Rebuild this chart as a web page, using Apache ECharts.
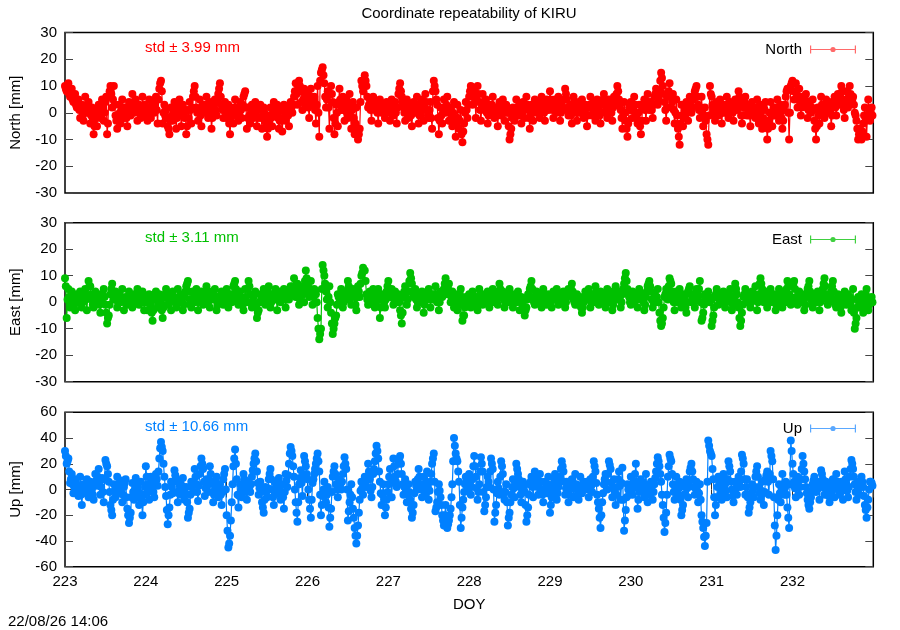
<!DOCTYPE html>
<html>
<head>
<meta charset="utf-8">
<script src="https://cdn.jsdelivr.net/npm/echarts@6/dist/echarts.min.js"></script>
<style>
  html, body { margin: 0; padding: 0; background: #fff; }
  #chart { width: 900px; height: 630px; }
</style>
</head>
<body>
<div id="chart"></div>
<script>
// epochs every 30 min from DOY 223.0 (48 per day, rows of 8 = 4 hours);
// the *Mid arrays hold the epochs 15 min after each of those
const DOY_START = 223;
const EPOCHS_PER_DAY = 48;
const DOY_TICKS = [223, 224, 225, 226, 227, 228, 229, 230, 231, 232];

const northMm = [
  // 223
  10, 8, 11, 6, 9, 4, 7, 2,   5, -2, 3, -3, 6, 0, 4, -4,   2, -8, 1, -5, 3, -2, 5, -3,
  4, -8, 6, 10, 2, 10, -1, -6,   3, -4, 5, -2, 2, -5, 4, -1,   7, 0, 5, -3, 3, -2, 6, -1,
  // 224
  2, -3, 5, -2, 4, 0, 6, -4,   9, 12, -4, 3, 1, -5, -8, 2,   -3, 4, -6, 2, 5, -5, 3, -2,
  -8, 1, 4, -4, 6, 10, 2, -3,   5, -5, 3, 0, 6, -2, 4, -6,   2, 5, -1, 7, 11, 3, -2, 4,
  // 225
  -2, 3, -8, 1, -4, 5, 0, -3,   4, -2, 6, 8, -6, 2, -4, 3,   -2, 4, -5, 1, 3, -6, 2, -3,
  -9, -4, 2, -5, 4, -1, 3, -6,   1, -7, 3, -3, 2, -5, 4, 0,   6, 11, 3, 12, 8, 1, 9, 4,
  // 226
  7, -2, 9, 3, 6, -4, 10, -9,   15, 17, 11, 2, 8, -6, 10, 4,   -8, 3, -5, 9, 1, 6, -3, 5,
  -2, 7, -6, 4, -8, 2, -10, -6,   12, 8, 14, 10, 2, 5, -3, 6,   1, 4, -4, 5, 0, 3, -2, 4,
  // 227
  3, -3, 5, -1, 4, -4, 7, 11,   6, 2, -3, 5, -2, 3, -5, 4,   0, 6, -4, 2, 5, -3, 7, 1,
  -2, 4, -6, 12, 8, 3, -8, 2,   -4, 5, 0, 6, -3, 2, -5, 4,   -9, 3, -6, 1, -11, -4, 4, -2,
  // 228
  6, 10, 3, 9, -2, 10, 4, -3,   7, 1, 5, -4, 3, 0, 6, -2,   2, -5, 4, -1, 5, -3, 3, 0,
  -10, -6, 2, -3, 5, -1, 3, -4,   4, -2, 6, 1, -6, 3, -3, 5,   0, 4, -2, 6, 2, -3, 5, 1,
  // 229
  8, 3, -2, 5, 0, 6, -3, 4,   1, 9, 5, -1, 3, -4, 6, 2,   -3, 4, 0, 5, -2, 3, -5, 2,
  6, -1, 4, -3, 5, 1, -4, 3,   7, 0, -2, 5, 2, -3, 6, 3,   10, 5, 1, -6, 4, -3, -9, 2,
  // 230
  4, -2, 6, 0, -4, 3, -8, 2,   5, -3, 7, 1, 4, -2, 6, 9,   3, 8, 15, 10, 4, -3, 6, 11,
  2, 7, -4, 5, -6, -12, 3, -5,   1, 4, -3, 6, 0, 5, 8, 10,   3, -2, 6, -5, 2, -8, -12, 10,
  // 231
  6, 1, -3, 4, -1, 5, -4, 3,   0, 6, -2, 4, 2, -3, 5, 1,   8, 3, -4, 2, 6, -1, 3, -5,
  4, 0, -2, 5, -4, 3, -6, 2,   4, -10, -3, 4, -5, 2, -1, 5,   -3, 3, -6, 1, 6, 9, -10, 10,
  // 232
  12, 5, 11, 2, 9, -1, 6, 3,   7, -2, 4, 0, 5, -3, -10, 2,   -4, 6, 1, -2, 5, 0, 4, -5,
  3, 6, -1, 7, 3, 10, 5, -2,   8, 2, 10, 4, 6, 0, -3, -10,   -6, -10, -4, 2, -9, 5, -3, 2
];

const northMidMm = [
  // 223
  9, 10, 7, 8, 5, 6, 3, 4,   1, 2, -1, 1, 2, 3, 0, -1,   -3, -5, -2, 0, 1, -1, 2, 0,
  6, -4, 8, 7, 5, 3, -3, -2,   0, 1, 2, 0, -2, 1, 0, 2,   3, 4, 2, 1, 0, 1, 2, 3,
  // 224
  0, 1, 2, 1, 2, 3, 1, 5,   11, 8, 0, -1, -2, -6, -3, -1,   1, 0, -2, 3, 1, -1, 0, 1,
  -5, -2, 1, 2, 8, 6, 0, 1,   -1, 0, 1, 3, 2, 1, 0, -2,   3, 1, 4, 9, 6, 1, 1, 0,
  // 225
  1, -4, -3, -1, 2, 2, -1, 0,   1, 3, 7, 2, -2, -1, 0, 1,   1, -1, -2, 2, -2, -1, 0, -5,
  -6, -1, -2, 1, 1, 0, -2, -3,   -3, -2, 0, 0, -1, 1, 2, 3,   8, 7, 9, 10, 4, 5, 6, 3,
  // 226
  2, 5, 6, 4, 1, 3, 0, 12,   16, 14, 6, 5, 2, 7, 7, -2,   -4, 0, 4, 5, 3, 1, 2, 0,
  3, -1, 1, -2, -4, -6, -8, 4,   10, 11, 12, 6, 3, 1, 2, 3,   2, 0, 1, 2, 1, 0, 1, 2,
  // 227
  0, 1, 2, 1, 0, 2, 9, 8,   4, 0, 1, 2, 0, -1, 0, 2,   3, 1, -1, 4, 1, 2, 4, -1,
  1, -2, 8, 10, 5, -2, -3, -1,   0, 2, 3, 1, 0, -2, 0, -3,   -4, -2, -3, -8, -7, 0, 1, 3,
  // 228
  8, 7, 6, 4, 5, 7, 1, 2,   4, 3, 0, -1, 2, 3, 2, 0,   -1, 0, 1, 2, 1, 0, 2, -5,
  -8, -2, 0, 1, 2, 1, -1, 0,   1, 2, 3, -2, -1, 0, 1, 2,   2, 1, 2, 4, 0, 1, 3, 4,
  // 229
  5, 1, 2, 3, 3, 1, 0, 2,   5, 7, 2, 1, -1, 1, 4, 0,   0, 2, 3, 1, 0, -1, -1, 3,
  2, 1, 0, 1, 3, -1, 0, 5,   3, 1, 2, 3, 0, 2, 4, 7,   8, 3, -2, -1, 0, -6, -4, 1,
  // 230
  1, 2, 3, -2, 0, -5, -3, 3,   1, 2, 4, 2, 1, 3, 7, 6,   5, 12, 13, 7, 1, 2, 8, 6,
  4, 1, 0, -1, -9, -4, -1, -2,   2, 0, 1, 3, 2, 6, 9, 6,   1, 2, 0, -1, -3, -10, -1, 7,
  // 231
  3, -1, 0, 1, 2, 0, 0, 1,   3, 2, 1, 3, 0, 1, 3, 5,   6, -1, -1, 4, 2, 1, -1, 0,
  2, 1, 2, 0, 0, -2, -2, 1,   -4, -6, 0, -1, -1, 1, 2, 1,   0, -2, -3, 3, 8, 0, 0, 11,
  // 232
  8, 8, 7, 6, 4, 2, 4, 5,   2, 1, 2, 2, 1, -6, -5, -1,   1, 3, 0, 2, 2, 2, 0, -1,
  4, 2, 3, 5, 7, 8, 1, 3,   5, 6, 7, 5, 3, -1, -6, -8,   -8, -7, -1, -3, -2, 1, 0, -1
];

const eastMm = [
  // 223
  9, -6, 5, -2, 4, 1, -3, 3,   0, 4, -2, 2, 5, -3, 8, 6,   1, -2, 4, 0, 3, -4, 2, 5,
  -1, -8, -5, 3, 7, 1, 4, -2,   3, 0, 5, -3, 2, -1, 4, 1,   -2, 3, 0, 5, -1, 2, 4, -3,
  // 224
  2, -3, 3, -1, -7, 1, 4, -2,   3, 0, -6, 2, 5, -1, 3, -3,   4, 1, -2, 5, 0, 3, -3, 2,
  6, 8, 1, -2, 4, 0, 5, -3,   2, 4, -1, 3, 6, 0, -2, 4,   1, 5, -3, 2, 0, 4, -1, 3,
  // 225
  5, -2, 3, 0, 6, 8, 2, -1,   4, 1, -3, 5, 0, 8, 3, -2,   2, 4, -6, -3, 3, 0, 5, -1,
  2, 6, -2, 3, 1, 5, -3, 4,   0, 3, 5, -2, 4, 1, 6, 3,   9, 2, 7, -1, 4, 6, 0, 12,
  // 226
  6, 2, 8, -1, 5, 3, -6, -14,   -10, 14, 10, 4, -2, 6, -4, -12,   -8, -5, 3, 0, 5, -2, 3, 1,
  8, 4, -1, 5, 2, -3, 6, 2,   10, 13, 12, 3, -1, 4, 0, 5,   -2, 3, 5, -6, 1, 3, -2, 4,
  // 227
  8, 2, 5, -1, 4, 0, 3, -3,   -8, 2, 6, -1, 4, 11, 7, 2,   5, -2, 3, 0, 4, -4, 2, 1,
  5, -2, 3, 1, 6, 0, -3, 4,   2, 5, 9, 3, 7, 0, 4, -2,   3, -3, 1, 5, -7, -5, 2, 0,
  // 228
  3, -2, 4, 0, 2, -3, 5, 1,   -1, 3, 0, 4, -2, 2, 5, 0,   3, -1, 7, 2, 4, -2, 3, 0,
  5, 1, -2, 3, 0, 4, -3, 2,   1, -5, -2, 3, 5, 8, 2, -1,   4, 0, 3, -2, 5, 1, -1, 3,
  // 229
  2, -2, 4, 1, 5, -1, 3, 0,   4, -2, 2, 5, 3, 7, 1, -1,   3, -1, 2, -4, 0, 4, 1, 5,
  -2, 3, 0, 6, 2, -1, 4, 1,   3, -2, 5, 0, 4, -3, 2, 6,   1, 4, -2, 3, 7, 11, 5, 2,
  // 230
  -1, 4, 0, 3, -2, 5, 1, 3,   -3, 2, 6, 8, 4, -2, 3, 0,   5, -4, -9, -6, 2, 5, 1, 9,
  7, 2, -3, 4, 0, 5, -2, 3,   1, -4, 4, 6, 0, 3, -2, 5,   2, 8, -7, -4, 3, 1, 4, 0,
  // 231
  -9, -5, 2, 5, -1, 3, 0, 4,   -2, 3, 1, 5, -3, 2, 7, 3,   -2, -9, -4, 2, 5, 0, 3, -2,
  4, 1, 6, -3, 3, 9, 5, 0,   4, -2, 2, 5, 0, 3, -3, 2,   5, 1, -2, 4, 0, 8, 3, -1,
  // 232
  6, 8, 2, -1, 4, 0, 3, -3,   2, 5, 8, 1, -2, 3, 0, 4,   -3, 2, 5, 9, 3, -1, 2, 4,
  8, 1, -2, 3, 0, -4, 2, 4,   -1, 3, 0, -3, 5, -10, -6, 2,   -2, 3, -4, 1, 5, -3, 0, 2
];

const eastMidMm = [
  // 223
  6, 1, 2, 0, 2, -1, 0, 1,   2, 1, 0, 3, 1, 2, 6, 3,   -1, 1, 2, 1, -1, 0, 3, 2,
  -4, -6, -1, 5, 4, 2, 1, 0,   1, 2, 1, 0, 0, 1, 2, -1,   0, 1, 2, 2, 0, 3, 1, 0,
  // 224
  0, 0, 1, -4, -3, 2, 1, 0,   1, -3, -2, 3, 2, 1, 0, 1,   2, 0, 1, 2, 1, 0, -1, 4,
  7, 4, -1, 1, 2, 3, 1, 0,   3, 1, 1, 4, 2, 1, 1, 2,   3, 1, -1, 1, 2, 1, 1, 0,
  // 225
  1, 0, 1, 3, 7, 5, 0, 1,   2, -1, 1, 2, 5, 6, 0, 0,   3, -2, -4, 0, 1, 3, 2, 0,
  4, 2, 0, 2, 3, 1, 1, 2,   1, 4, 2, 1, 2, 3, 5, 6,   5, 4, 3, 1, 5, 3, 8, 9,
  // 226
  4, 5, 3, 2, 4, 0, -10, -12,   5, 12, 7, 1, 2, 0, -8, -10,   -6, -1, 2, 3, 1, 0, 2, 4,
  6, 2, 2, 3, -1, 2, 4, 7,   11, 12, 8, 1, 2, 2, 3, 1,   0, 4, 1, -2, 2, 0, 1, 6,
  // 227
  5, 3, 2, 1, 2, 1, 0, -5,   -4, 4, 2, 1, 8, 9, 4, 3,   1, 0, 2, 2, 0, -1, 1, 3,
  2, 1, 2, 3, 3, 1, 0, 3,   3, 7, 6, 5, 3, 2, 1, 0,   0, -1, 3, 0, -5, -2, 1, 1,
  // 228
  0, 1, 2, 1, -1, 1, 3, 0,   1, 2, 2, 1, 0, 3, 2, 1,   1, 4, 5, 3, 1, 0, 1, 2,
  3, 0, 1, 1, 2, 1, 0, 0,   -2, -3, 1, 2, 6, 5, 0, 1,   2, 1, 0, 2, 3, 0, 1, 1,
  // 229
  0, 1, 2, 3, 2, 1, 1, 2,   1, 0, 3, 4, 5, 4, 0, 1,   1, 0, -2, -2, 2, 2, 3, 1,
  0, 1, 3, 4, 0, 1, 2, 2,   0, 2, 2, 1, 0, -1, 4, 3,   2, 1, 0, 5, 9, 8, 3, 0,
  // 230
  2, 1, 1, 1, 2, 3, 2, 0,   -1, 4, 7, 6, 1, 0, 1, 2,   0, -7, -8, -2, 3, 3, 6, 8,
  4, 0, 1, 2, 2, 1, 0, 2,   -2, 0, 5, 3, 1, 0, 1, 3,   5, 0, -6, -1, 2, 2, 2, 1,
  // 231
  -7, -2, 3, 2, 1, 1, 2, 1,   0, 2, 3, 1, -1, 5, 5, 0,   -6, -7, -1, 3, 2, 1, 1, 0,
  2, 3, 1, 0, 7, 7, 2, 2,   1, 0, 3, 2, 1, 0, -1, 3,   3, -1, 1, 2, 5, 6, 1, 0,
  // 232
  7, 5, 0, 1, 2, 1, 0, -1,   3, 6, 4, -1, 0, 1, 2, 1,   0, 3, 7, 6, 1, 0, 3, 6,
  4, -1, 0, 1, -2, -1, 3, 1,   1, 2, -1, 1, -4, -8, -2, 0,   0, -1, -2, 3, 1, -1, 1, 0
];

const upMm = [
  // 223
  30, 20, 24, 5, 12, -3, 8, 2,   -5, 10, -12, 4, -2, 8, -6, 6,   0, -8, 12, 3, 16, -4, 9, -10,
  23, 18, 6, -12, -20, 4, -6, 10,   -3, 7, -10, 2, 8, -15, -26, -18,   5, -8, 9, 0, -12, 6, -20, -4,
  // 224
  18, 4, -8, 10, 2, -6, 12, 3,   24, 37, 30, 10, -5, -27, -14, 6,   -3, 15, 8, -10, 5, -4, 9, -8,
  2, -22, -15, 6, -2, 16, 4, -9,   12, 24, 16, -5, 8, -2, 18, 6,   -10, 3, 10, -6, 4, -12, 8, 16,
  // 225
  -20, -45, -36, -10, 18, 31, 8, -14,   4, -6, 12, 3, -8, 6, -2, 10,   20, 28, 14, -4, 6, -10, -18, 2,
  -6, 8, 16, 0, -12, 5, -3, 9,   -8, 4, -15, 12, 2, 20, 33, 26,   10, -10, -25, 4, 15, -5, 26, 18,
  // 226
  8, -8, -22, 5, 12, 20, 28, 14,   -20, -5, 6, -10, 2, -29, -15, 10,   18, 4, -6, 8, 0, 12, 25, 16,
  -24, -10, 4, -15, -30, -42, -28, -8,   6, -4, 10, 2, 20, 8, -6, 12,   22, 34, 24, 6, -12, 4, -20, -8,
  // 227
  4, 16, -6, 24, 10, 2, 20, 26,   12, -4, 8, -10, 4, -8, -22, -12,   6, 0, 16, 4, -6, 10, -3, 14,
  -8, 6, 20, 28, -17, -10, 4, -6,   -20, -28, -12, -30, -24, -15, 4, 40,   28, 22, 6, -30, -14, -2, 10, 0,
  // 228
  12, -4, 8, 26, 10, -8, 4, 25,   14, -17, -6, 10, 2, 24, 16, -25,   -12, 6, -4, 22, 12, -8, 4, -28,
  -18, -4, 8, -6, 20, 12, 2, -10,   6, -2, -25, -14, 4, 10, -6, 14,   8, -4, 12, 0, -10, 6, -3, 10,
  // 229
  -18, -6, 4, 12, -8, 2, 10, 22,   14, -4, 6, -10, 2, 8, -6, 12,   0, -8, 10, -3, 6, 2, 6, -6,
  8, -2, 22, 14, -4, -15, -30, -10,   4, 12, 0, 22, 16, -6, 8, -12,   2, 14, -8, 17, -32, -16, 4, -4,
  // 230
  10, -4, 6, 20, -15, -2, 8, 4,   -6, 12, -10, 2, 6, -8, 4, 14,   25, 18, 6, -12, -33, -18, 10, 27,
  22, 4, -8, 10, -4, 6, -20, -12,   2, 8, -6, 14, 20, 8, -4, 6,   -10, 4, -20, -30, -44, -26, 38, 30,
  // 231
  26, 8, -20, -6, 10, 2, -8, 12,   4, -6, 22, 14, 0, -10, 6, -4,   10, 2, 27, 20, -4, 8, -18, -10,
  4, -6, 10, 18, 2, -8, 6, -12,   8, 14, -4, 30, 22, -6, -47, -20,   4, -10, 12, -4, 6, -14, -30, 38,
  // 232
  20, 6, -6, 10, -4, 8, 26, 14,   2, -8, -15, -6, 4, 10, -2, 6,   -8, 15, 8, -4, 6, 0, -10, 4,
  8, -6, 12, 2, -4, 6, -8, 14,   4, -6, 10, 23, 16, 4, -8, 6,   -4, 10, 2, -12, -22, -8, 6, 5
];

const upMidMm = [
  // 223
  26, 22, 14, 8, 4, 2, 5, -1,   2, -4, -3, 1, 3, -1, 0, 2,   -4, 4, 7, 10, 6, 2, -2, 8,
  20, 12, -2, -16, -8, -1, 2, 4,   2, -3, -4, 5, -6, -20, -22, -6,   -2, 0, 4, -6, -3, -8, -10, 2,
  // 224
  10, -2, 1, 6, -2, 4, 8, 14,   32, 33, 20, 2, -16, -20, -4, 2,   6, 11, -2, -3, 1, 3, -1, -3,
  -10, -18, -4, 2, 6, 10, -2, 3,   18, 20, 6, 1, 3, 8, 12, -2,   -4, 6, 2, -1, -4, -2, 12, 0,
  // 225
  -32, -42, -24, 4, 24, 20, -4, -5,   -1, 3, 8, -2, -1, 2, 4, 15,   24, 22, 5, 1, -2, -14, -8, -2,
  1, 12, 8, -6, -4, 1, 3, 0,   -3, -6, -2, 7, 11, 28, 30, 18,   0, -18, -10, 9, 5, 10, 22, 12,
  // 226
  0, -15, -8, 8, 16, 24, 22, -4,   -12, 0, -2, -4, -14, -22, -2, 14,   12, 0, 2, 4, 6, 18, 20, 0,
  -17, -4, -6, -22, -36, -36, -18, -1,   1, 3, 6, 10, 14, -1, 2, 16,   28, 30, 14, -3, -4, -8, -14, -2,
  // 227
  10, 5, 8, 18, 6, 12, 24, 20,   4, 2, -1, -3, -2, -15, -18, -3,   3, 8, 10, 0, 2, 4, 6, 2,
  -1, 12, 24, 6, -14, -2, -1, -12,   -24, -20, -22, -27, -20, -6, 22, 34,   24, 14, -12, -22, -8, 4, 6, 6,
  // 228
  4, 2, 18, 18, 1, -2, 14, 20,   -2, -12, 2, 6, 14, 20, 0, -18,   -3, 1, 10, 18, -2, -2, -10, -22,
  -10, 2, 1, 6, 16, 8, -4, -2,   2, -12, -20, -4, 6, 2, 4, 10,   2, 4, 6, -4, -2, 1, 4, 2,
  // 229
  -12, -1, 8, 2, -3, 6, 16, 18,   6, 1, -2, -4, 5, 1, 3, 4,   -4, 1, 3, 2, 4, 4, 0, 1,
  3, 10, 18, 5, -10, -22, -20, -3,   8, 6, 12, 19, 5, 1, -2, -4,   8, 3, 5, -8, -24, -6, 0, 2,
  // 230
  3, 1, 12, 2, -8, 3, 6, -1,   3, 1, -4, 4, -1, -2, 9, 20,   22, 12, -4, -22, -26, -4, 18, 24,
  12, -2, 1, 3, 1, -8, -16, -4,   5, 1, 4, 17, 14, 2, 1, -2,   -3, -8, -25, -37, -36, 6, 34, 28,
  // 231
  16, -6, -12, 2, 6, -3, 2, 8,   -1, 8, 18, 6, -5, -2, 1, 3,   6, 14, 24, 8, 2, -6, -14, -3,
  -1, 2, 14, 10, -3, -1, -3, -2,   11, 6, 12, 26, 8, -28, -36, -8,   -3, 1, 4, 1, -4, -22, 4, 30,
  // 232
  12, 1, 2, 3, 2, 16, 20, 8,   -3, -12, -10, -1, 7, 4, 2, 1,   3, 12, 2, 1, 3, -5, -3, 6,
  1, 3, 6, -1, 1, -1, 3, 8,   -1, 2, 16, 20, 10, -2, -1, 1,   3, 6, -5, -16, -14, 0, 6, 3
];

const FONT = "'Liberation Sans', Arial, sans-serif";
const FS = 15;

const PANELS = [
  { name: 'North', values: northMm, mid: northMidMm, color: '#ff0000', light: '#ff6a6a',
    std: 'std \u00b1 3.99 mm', yName: 'North [mm]', min: -30, max: 30, step: 10,
    top: 32.5, height: 160.5, keyY: 48 },
  { name: 'East', values: eastMm, mid: eastMidMm, color: '#00c000', light: '#40d040',
    std: 'std \u00b1 3.11 mm', yName: 'East [mm]', min: -30, max: 30, step: 10,
    top: 222.7, height: 159, keyY: 238 },
  { name: 'Up', values: upMm, mid: upMidMm, color: '#0080ff', light: '#5aa8ff',
    std: 'std \u00b1 10.66 mm', yName: 'Up [mm]', min: -60, max: 60, step: 20,
    top: 412.3, height: 154.4, keyY: 427 }
];

// legend key: error bar with caps and a dot in the middle
const ERRBAR_ICON = 'path://M0,0h1.2v3.4h43.6v-3.4h1.2v8h-1.2v-3.4h-43.6v3.4h-1.2z' +
  'M25.6,4a2.6,2.6 0 1,1 -5.2,0a2.6,2.6 0 1,1 5.2,0z';

// merge the on-the-half-hour and quarter-past epochs in time order
function toPoints(values, mid) {
  const pts = [];
  values.forEach((v, i) => {
    pts.push([DOY_START + i / EPOCHS_PER_DAY, v]);
    if (i < mid.length) pts.push([DOY_START + (i + 0.5) / EPOCHS_PER_DAY, mid[i]]);
  });
  return pts;
}

const chart = echarts.init(document.getElementById('chart'), null, { renderer: 'canvas' });

const grid = [], xAxis = [], yAxis = [], series = [], legend = [], texts = [];

PANELS.forEach((p, i) => {
  const last = i === PANELS.length - 1;
  grid.push({
    left: 64.5, right: 26.7, top: p.top, height: p.height,
    show: true, borderColor: '#000', borderWidth: 1.5, backgroundColor: 'transparent'
  });

  const baseX = {
    gridIndex: i, type: 'value', min: 223, max: 233, interval: 1,
    axisLine: { show: false },
    splitLine: { show: false },
    axisTick: { show: last, inside: true, length: 8, lineStyle: { color: '#333', width: 1 } }
  };
  xAxis.push(Object.assign({}, baseX, {
    position: 'bottom',
    axisLabel: {
      show: last, margin: 8, color: '#000', fontSize: FS, fontFamily: FONT,
      formatter: v => (DOY_TICKS.indexOf(v) >= 0 ? String(v) : '')
    },
    name: last ? 'DOY' : '', nameLocation: 'middle', nameGap: 31,
    nameTextStyle: { color: '#000', fontSize: FS, fontFamily: FONT }
  }));
  xAxis.push(Object.assign({}, baseX, { position: 'top', axisLabel: { show: false } }));

  const baseY = {
    gridIndex: i, type: 'value', min: p.min, max: p.max, interval: p.step,
    axisLine: { show: false },
    splitLine: { show: false },
    axisTick: { show: true, inside: true, length: 8, lineStyle: { color: '#444', width: 1 } }
  };
  yAxis.push(Object.assign({}, baseY, {
    position: 'left',
    axisLabel: { margin: 8, color: '#000', fontSize: FS, fontFamily: FONT },
    name: p.yName, nameLocation: 'middle', nameGap: 42, nameRotate: 90,
    nameTextStyle: { color: '#000', fontSize: FS, fontFamily: FONT }
  }));
  yAxis.push(Object.assign({}, baseY, { position: 'right', axisLabel: { show: false } }));

  series.push({
    name: p.name,
    type: 'line',
    xAxisIndex: i * 2,
    yAxisIndex: i * 2,
    data: toPoints(p.values, p.mid),
    symbol: 'circle',
    symbolSize: 8,
    showSymbol: true,
    showAllSymbol: true,
    color: p.color,
    lineStyle: { color: p.color, width: 1.2 },
    itemStyle: { color: p.color },
    emphasis: { disabled: true },
    clip: true,
    z: 3
  });

  legend.push({
    data: [{ name: p.name, icon: ERRBAR_ICON, itemStyle: { color: p.light } }],
    right: 44, top: p.keyY - 6, padding: 0, align: 'right', orient: 'vertical',
    itemWidth: 46, itemHeight: 8, selectedMode: false,
    textStyle: { color: '#000', fontSize: FS, fontFamily: FONT, padding: [0, 3, 0, 0] }
  });

  texts.push({
    type: 'text', left: 145, top: p.keyY - 8,
    style: { text: p.std, fill: p.color, font: FS + 'px ' + FONT }
  });
});

texts.push({
  type: 'text', left: 8, top: 614,
  style: { text: '22/08/26 14:06', fill: '#000', font: FS + 'px ' + FONT }
});

chart.setOption({
  animation: false,
  backgroundColor: '#fff',
  title: {
    text: 'Coordinate repeatability of KIRU',
    left: 464, top: 1, textAlign: 'center',
    textStyle: { color: '#000', fontSize: FS, fontWeight: 'normal', fontFamily: FONT }
  },
  grid: grid,
  xAxis: xAxis,
  yAxis: yAxis,
  legend: legend,
  series: series,
  graphic: texts
});
</script>
</body>
</html>
